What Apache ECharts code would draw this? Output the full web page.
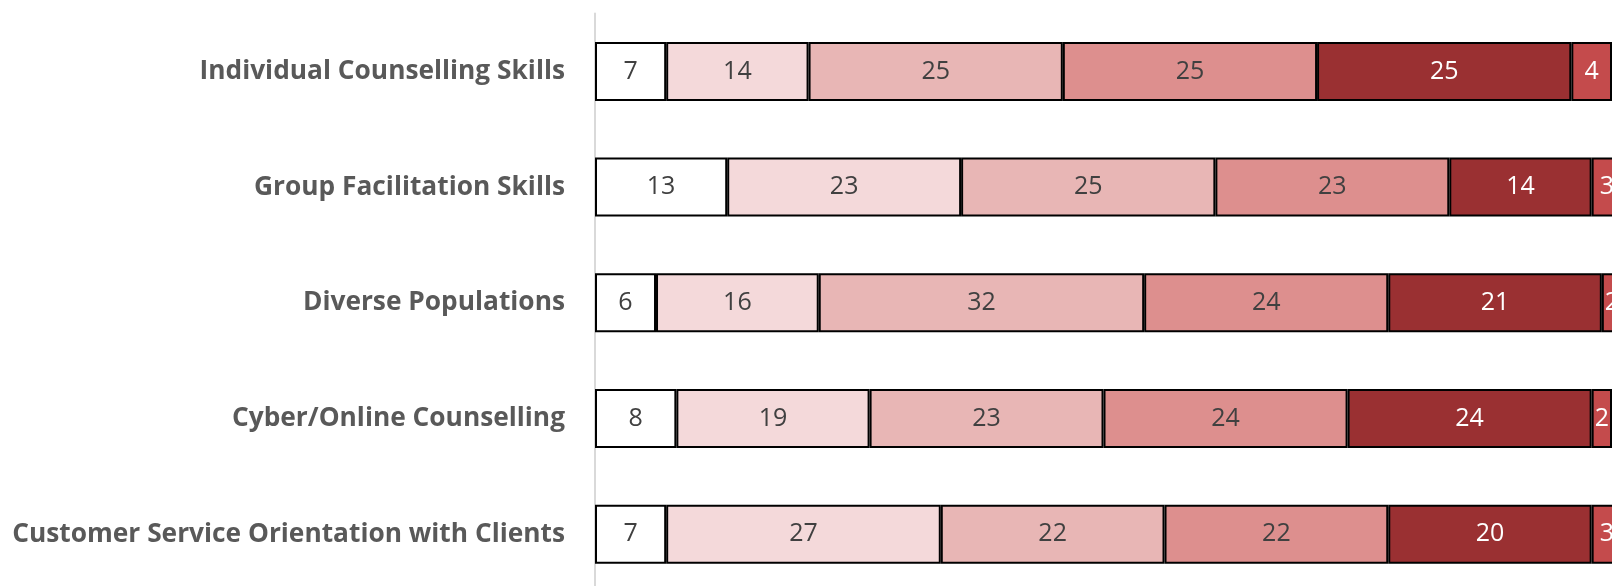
<!DOCTYPE html>
<html>
<head>
<meta charset="utf-8">
<script src="https://cdn.jsdelivr.net/npm/echarts@6/dist/echarts.min.js"></script>
<style>html,body{margin:0;padding:0;background:#fff;overflow:hidden}#c{width:1612px;height:592px}</style>
</head>
<body>
<div id="c"></div>
<script>
const categories = ["Individual Counselling Skills","Group Facilitation Skills","Diverse Populations","Cyber/Online Counselling","Customer Service Orientation with Clients"];
const s1 = [7,13,6,8,7];
const s2 = [14,23,16,19,27];
const s3 = [25,25,32,23,22];
const s4 = [25,23,24,24,22];
const s5 = [25,14,21,24,20];
const s6 = [4,3,2,2,3];
const seriesData = [s1,s2,s3,s4,s5,s6];
const colors = ["#ffffff","#f4d9da","#e8b6b5","#dd8f8e","#9a3032","#c44b4c"];
const labelColors = ["#404040","#404040","#404040","#404040","#ffffff","#ffffff"];

const chart = echarts.init(document.getElementById('c'));
chart.setOption({
  animation:false,
  grid:{left:595,top:13.6,right:0,bottom:0,containLabel:false},
  xAxis:{type:'value',min:0,max:100,show:false},
  yAxis:{type:'category',data:categories,inverse:true,
    axisLine:{show:true,lineStyle:{color:'#d9d9d9',width:2}},
    axisTick:{show:false},
    axisLabel:{margin:30,fontFamily:'Open Sans',fontWeight:'bold',fontSize:26.3,color:'#595959'}},
  series: seriesData.map((d,i)=>({
    type:'bar',stack:'a',data:d,barWidth:59,clip:false,
    itemStyle:{color:colors[i],borderColor:'#000',borderWidth:2},
    label:{show:true,position:'inside',fontFamily:'Open Sans',fontSize:25,color:labelColors[i]}
  }))
});
</script>
</body>
</html>
